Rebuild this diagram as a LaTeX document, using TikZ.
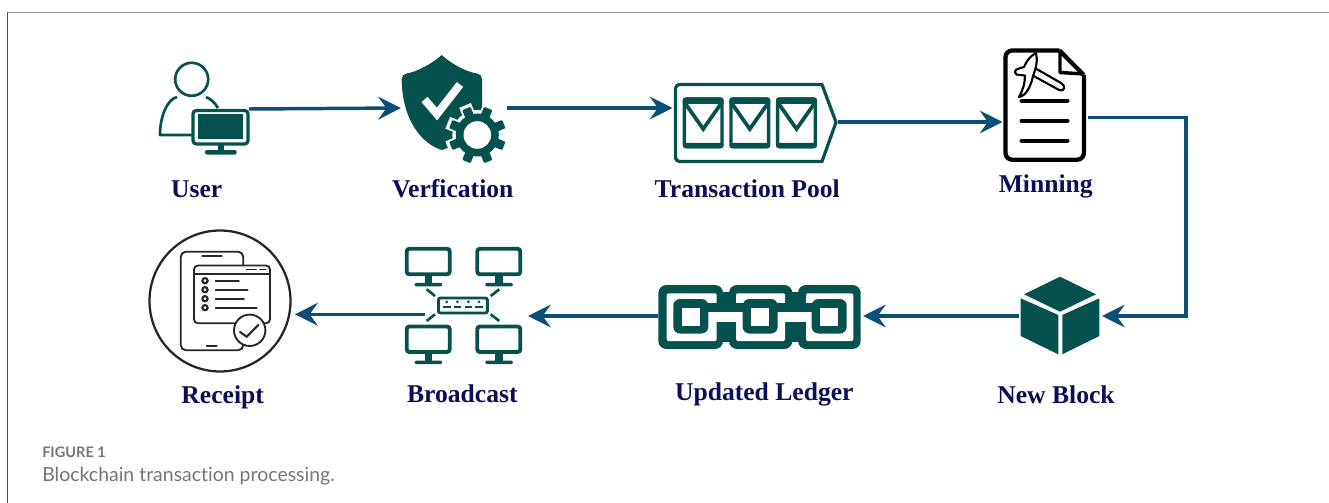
\documentclass[tikz,border=0pt]{standalone}
\usepackage{fontspec}
\setmainfont{Liberation Serif}
\newfontfamily\capfont[Ligatures={NoCommon,NoRare}]{Lato}
\usetikzlibrary{arrows.meta}
\definecolor{teal}{HTML}{04514D}
\definecolor{flow}{HTML}{0B4F78}
\definecolor{navy}{HTML}{0C0C58}
\definecolor{capgrey}{HTML}{767676}
\tikzset{
  px/.style={x=0.75pt,y=-0.75pt},
  port/.style={inner sep=0pt,minimum size=0pt,outer sep=0pt},
  conn/.style={draw=flow,line width=2.6pt,-{Stealth[length=17pt,width=17pt,inset=6pt]}},
  lab/.style={anchor=base,font=\fontsize{19.2}{22}\selectfont\bfseries,text=navy,inner sep=0pt},
  tline/.style={draw=teal,line width=2pt},
  kline/.style={draw=black,line width=3pt,line cap=round},
  rline/.style={draw=black!85,line width=1.4pt,line cap=round},
}
\newcommand{\pcmon}[2]{%
  \draw[tline,line width=2.9pt,rounded corners=2pt,fill=white] (#1,#2) rectangle ++(43,25.5);
  \fill[teal] (#1+18,#2+25) rectangle ++(7.5,9);
  \fill[teal,rounded corners=1pt] (#1+8,#2+34) rectangle ++(27.5,3.6);
}
\newcommand{\envel}[1]{%
  \draw[teal,line width=2.6pt,rounded corners=2pt] (#1+1.7,99) rectangle (#1+39.3,146.6);
  \fill[teal,rounded corners=2pt] (#1,97.3) rectangle (#1+41,104);
  \fill[teal,rounded corners=2pt] (#1,142.8) rectangle (#1+41,148.3);
  \draw[teal,line width=2.8pt] (#1+1.5,102) -- (#1+20.5,129) -- (#1+39.5,102);
}
\begin{document}
\begin{tikzpicture}[px]
\useasboundingbox (0,0) rectangle (1329,503);
% frame
\draw[draw=black!38,line width=1pt] (7,12.3) -- (1329,12.3);
\draw[draw=black!68,line width=1pt] (7.5,12) -- (7.5,503);

% USER
\draw[tline] (191.7,79.3) circle (16.5);
\draw[tline,line join=round] (191.7,135) -- (160,135) .. controls (160,115) and (168,99) .. (177,97);
\draw[tline] (206,97) .. controls (211,99) and (215,103) .. (218,108);
\draw[tline,line width=2.4pt,rounded corners=2.5pt,fill=white] (193,110.5) rectangle (248,144);
\fill[teal] (198.3,114) rectangle (243.3,139.3);
\fill[teal] (218,145) rectangle (224,151);
\fill[teal,rounded corners=1.5pt] (205,150) rectangle (236.7,154.5);
\node[port] (user) at (249,109) {};

% VERIFICATION
\fill[teal] (441.7,55) .. controls (450,63) and (466,72) .. (477,73.5)
  .. controls (480,74) and (482,76) .. (482,79) -- (482,110) .. controls (480,125) and (465,143) .. (441.7,150)
  .. controls (420,143) and (402,118) .. (401.7,79)
  .. controls (401.7,76) and (403.5,74) .. (406.5,73.5)
  .. controls (417,72) and (433,63) .. cycle;
\draw[white,line width=6pt] (424.5,99.5) -- (437,114) -- (460,84.5);
\foreach \a in {22.5,67.5,...,337.5}
  \fill[white,rotate around={\a:(477.3,135)}] (471,103) rectangle (483.6,135);
\fill[white] (477.3,135) circle (25);
\foreach \a in {22.5,67.5,...,337.5}
  \fill[teal,rounded corners=.8pt,rotate around={\a:(477.3,135)}] (472.8,106.3) rectangle (481.8,135);
\fill[teal] (477.3,135) circle (21.5);
\fill[white] (477.3,135) circle (13.8);
\node[port] (verif-in) at (401,108) {};
\node[port] (verif-out) at (506.7,108) {};

% POOL
\draw[teal,line width=2.4pt,rounded corners=3pt,line join=round]
  (823,84.5) -- (675.5,84.5) -- (675.5,161.5) -- (823,161.5);
\draw[teal,line width=2.4pt] (822,84.5) -- (836,122.3) -- (822,161.5);
\envel{682.7}\envel{729.3}\envel{776}
\node[port] (pool-in) at (672.5,108) {};
\node[port] (pool-out) at (837.5,122) {};

% MINING
\draw[draw=black,line width=3.2pt,rounded corners=5pt,line join=round]
  (1059.5,50.5) -- (1005.5,50.5) -- (1005.5,159.7) -- (1083.9,159.7) -- (1083.9,75);
\draw[draw=black,line width=3.2pt,line join=round] (1059.5,50.5) -- (1083.9,75);
\draw[draw=black,line width=2.6pt,line join=round] (1060,50) -- (1060,72.5) -- (1083.9,74);
\draw[kline] (1021.5,100.7) -- (1067.5,100.7);
\draw[kline] (1021.5,120.7) -- (1067.5,120.7);
\draw[kline] (1021.5,140.7) -- (1067.5,140.7);
\draw[black,line width=1.6pt,fill=white,line join=round]
  (1030,74) -- (1059,90) .. controls (1065,92) and (1066,85.5) .. (1061,83) -- (1033,67) -- cycle;
\draw[black,line width=1.6pt,fill=white,line join=round]
  (1036,53) .. controls (1030,56) and (1026,62) .. (1024,67) -- (1019,68.5)
  .. controls (1013,69) and (1014,76) .. (1020,75) -- (1025,75.5)
  .. controls (1025,83) and (1023,90) .. (1019,97) .. controls (1026,96) and (1031,86) .. (1033,76)
  .. controls (1036,68) and (1038,60) .. cycle;
\node[port] (mine-out) at (1088,117.5) {};
\node[port] (mine-in) at (1002.5,122) {};

% NEW BLOCK
\fill[teal] (1060,276.7) -- (1096,294.3) -- (1060,311.7) -- (1024,294.3) -- cycle;
\fill[teal] (1020.7,298.3) -- (1058.3,315) -- (1058.3,354.3) -- (1020.7,336) -- cycle;
\fill[teal] (1099.3,298.3) -- (1062.3,315) -- (1062.3,354.3) -- (1099.3,336) -- cycle;
\node[port] (block-in) at (1102,316) {};
\node[port] (block-out) at (1019,316) {};
\coordinate (bend) at (1186,117.5);

% LEDGER
\foreach \xa/\xb in {658.3/723,729/792.3,798/860.7}
  \fill[teal,rounded corners=6pt] (\xa,285) rectangle (\xb,349);
\fill[teal] (716,292) rectangle (736,342);
\fill[teal] (785,292) rectangle (805,342);
\foreach \xa/\xb in {666.7/716.7,736/785,806/853.3}
  \fill[white,rounded corners=1pt] (\xa,293.3) rectangle (\xb,341);
\fill[white] (708,311.7) rectangle (743,321.7);
\fill[white] (777,311.7) rectangle (812,321.7);
\fill[teal] (700,303.3) rectangle (820,311.7);
\foreach \xc in {673.3,742.7,811.7}{
  \fill[teal,rounded corners=5pt] (\xc,299) rectangle (\xc+35,333.5);
  \fill[white] (\xc+8.4,307.7) rectangle (\xc+26.7,325.7);
}
\node[port] (ledger-in) at (863,316) {};
\node[port] (ledger-out) at (658,316) {};

% BROADCAST
\pcmon{406.7}{248.8}\pcmon{477.3}{248.8}\pcmon{406.7}{326.5}\pcmon{477.3}{326.5}
\draw[tline,line width=2.2pt,rounded corners=1.5pt] (438.5,298) rectangle (487.3,313);
\foreach \x in {446.7,457.3,468.3,479}{
  \fill[teal] (\x,301.8) circle (1.5);
  \fill[teal] (\x-3.8,305.8) rectangle (\x+3.8,308.4);
}
\draw[tline] (426.7,289.3) -- (435,296);
\draw[tline] (499.3,289.3) -- (490.7,296);
\draw[tline] (426.7,321) -- (435,314.3);
\draw[tline] (499.3,321) -- (490.7,314.3);
\node[port] (cast-in) at (528,316) {};
\node[port] (cast-out) at (425,314.3) {};

% RECEIPT
\draw[rline,line width=1.7pt] (220,301) circle (70.5);
\draw[rline,rounded corners=4pt] (180.7,251.7) rectangle (243.3,350.3);
\draw[rline,fill=white,rounded corners=3pt] (194,265.5) rectangle (270,323.3);
\draw[rline] (194,274.3) -- (270,274.3);
\draw[rline] (246.7,269.5) -- (256,269.5);
\draw[rline] (260,269.5) -- (265.7,269.5);
\draw[rline] (202.3,256) -- (221.7,256);
\draw[rline] (206.7,345.7) -- (216.7,345.7);
\foreach \y/\xe in {280.7/239,289.7/247.7,298.7/244,307.7/256.7}{
  \draw[rline,line width=1.6pt] (205,\y) circle (2.6);
  \draw[rline] (215.7,\y) -- (\xe,\y);
}
\draw[rline,fill=white] (249.7,330.3) circle (15.7);
\draw[rline,line width=1.6pt] (240,332) -- (246.7,336.7) -- (258.3,325);
\node[port] (rcpt-in) at (295,314.3) {};

% CONNECTORS
\draw[conn] (user) -- (verif-in);
\draw[conn] (verif-out) -- (pool-in);
\draw[conn] (pool-out) -- (mine-in);
\draw[conn] (mine-out) -- (bend) |- (block-in);
\draw[conn] (block-out) -- (ledger-in);
\draw[conn] (ledger-out) -- (cast-in);
\draw[conn] (cast-out) -- (rcpt-in);

% LABELS
\node[lab] (l-user) at (196.7,197.5) {User};
\node[lab] (l-verif) at (452.7,197.5) {Verfication};
\node[lab] (l-pool) at (747.3,197.5) {Transaction Pool};
\node[lab] (l-mine) at (1045.7,192.5) {Minning};
\node[lab] (l-block) at (1056,403.5) {New Block};
\node[lab] (l-ledger) at (764.3,400.5) {Updated Ledger};
\node[lab] (l-cast) at (462.3,402) {Broadcast};
\node[lab] (l-rcpt) at (222.7,403.5) {Receipt};
\node[anchor=base west,inner sep=0pt,text=capgrey,font=\capfont\bfseries\fontsize{10.9}{12}\selectfont] (fig) at (42,457) {FIGURE 1};
\node[anchor=base west,inner sep=0pt,text=capgrey,font=\capfont\fontsize{14.6}{18}\selectfont] (cap) at (42,481) {Blockchain transaction processing.};
\end{tikzpicture}
\end{document}
